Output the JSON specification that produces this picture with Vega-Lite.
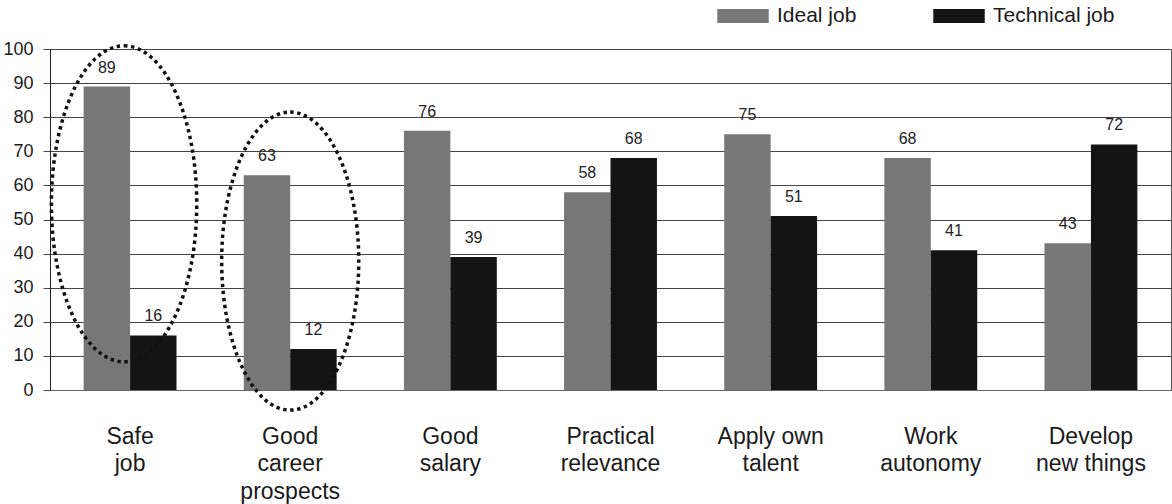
{
  "$schema": "https://vega.github.io/schema/vega-lite/v6.json",
  "width": 1121,
  "height": 341,
  "autosize": {"type": "none"},
  "padding": {"left": 50, "top": 49, "right": 1, "bottom": 114},
  "background": "white",
  "config": {
    "font": "Liberation Sans",
    "view": {"stroke": "#555", "strokeWidth": 1},
    "axisY": {
      "title": null,
      "tickCount": 10,
      "labelOverlap": false,
      "labelFontSize": 18,
      "labelColor": "#1a1a1a",
      "labelPadding": 10,
      "tickSize": 7,
      "tickColor": "#444",
      "gridColor": "#444",
      "gridOpacity": 1,
      "domainColor": "#222"
    }
  },
  "datasets": {
    "ratings": [
      {"aspect": "Safe job", "job": "Ideal job", "percent": 89},
      {"aspect": "Safe job", "job": "Technical job", "percent": 16},
      {"aspect": "Good career prospects", "job": "Ideal job", "percent": 63},
      {"aspect": "Good career prospects", "job": "Technical job", "percent": 12},
      {"aspect": "Good salary", "job": "Ideal job", "percent": 76},
      {"aspect": "Good salary", "job": "Technical job", "percent": 39},
      {"aspect": "Practical relevance", "job": "Ideal job", "percent": 58},
      {"aspect": "Practical relevance", "job": "Technical job", "percent": 68},
      {"aspect": "Apply own talent", "job": "Ideal job", "percent": 75},
      {"aspect": "Apply own talent", "job": "Technical job", "percent": 51},
      {"aspect": "Work autonomy", "job": "Ideal job", "percent": 68},
      {"aspect": "Work autonomy", "job": "Technical job", "percent": 41},
      {"aspect": "Develop new things", "job": "Ideal job", "percent": 43},
      {"aspect": "Develop new things", "job": "Technical job", "percent": 72}
    ],
    "highlights": [
      {"aspect": "Safe job", "percent": 54.6},
      {"aspect": "Good career prospects", "percent": 37.8}
    ]
  },
  "encoding": {
    "x": {
      "field": "aspect",
      "type": "nominal",
      "scale": {
        "domain": ["Safe job", "Good career prospects", "Good salary", "Practical relevance", "Apply own talent", "Work autonomy", "Develop new things"],
        "paddingInner": 0.42,
        "paddingOuter": 0.21
      },
      "axis": {
        "title": null,
        "labelAngle": 0,
        "labelExpr": "datum.value == 'Apply own talent' ? ['Apply own', 'talent'] : datum.value == 'Develop new things' ? ['Develop', 'new things'] : split(datum.value, ' ')",
        "labelFontSize": 23,
        "labelLineHeight": 27.5,
        "labelBaseline": "top",
        "labelPadding": 35,
        "labelColor": "#1a1a1a",
        "ticks": false,
        "domainColor": "#666",
        "grid": false
      }
    },
    "y": {
      "field": "percent",
      "type": "quantitative",
      "scale": {"domain": [0, 100]}
    }
  },
  "layer": [
    {
      "data": {"name": "ratings"},
      "mark": {"type": "bar"},
      "encoding": {
        "xOffset": {"field": "job", "type": "nominal", "scale": {"domain": ["Ideal job", "Technical job"]}},
        "color": {
          "field": "job",
          "type": "nominal",
          "scale": {"domain": ["Ideal job", "Technical job"], "range": ["#777777", "#141414"]},
          "legend": {
            "orient": "none",
            "legendX": 667,
            "legendY": -59,
            "direction": "horizontal",
            "title": null,
            "padding": 0,
            "symbolType": "M-1,-0.275H1V0.275H-1Z",
            "symbolSize": 2650,
            "symbolStrokeWidth": 0,
            "symbolOpacity": 1,
            "labelFontSize": 21,
            "labelColor": "#1a1a1a",
            "labelOffset": 8,
            "columnPadding": 76
          }
        }
      }
    },
    {
      "data": {"name": "ratings"},
      "mark": {"type": "text", "baseline": "alphabetic", "dy": -14, "fontSize": 16, "color": "#222"},
      "encoding": {
        "xOffset": {"field": "job", "type": "nominal", "scale": {"domain": ["Ideal job", "Technical job"]}},
        "text": {"field": "percent", "type": "quantitative"}
      }
    },
    {
      "data": {"name": "highlights"},
      "transform": [{"filter": "datum.aspect == 'Safe job'"}],
      "mark": {
        "type": "point",
        "shape": "M0,-1C0.254,-1 0.46,-0.552 0.46,0C0.46,0.552 0.254,1 0,1C-0.254,1 -0.46,0.552 -0.46,0C-0.46,-0.552 -0.254,-1 0,-1Z",
        "size": 99856,
        "filled": false,
        "stroke": "#111",
        "strokeWidth": 3.5,
        "strokeDash": [3.4, 3.6],
        "opacity": 1,
        "xOffset": -6
      }
    },
    {
      "data": {"name": "highlights"},
      "transform": [{"filter": "datum.aspect == 'Good career prospects'"}],
      "mark": {
        "type": "point",
        "shape": "M0,-1C0.254,-1 0.46,-0.552 0.46,0C0.46,0.552 0.254,1 0,1C-0.254,1 -0.46,0.552 -0.46,0C-0.46,-0.552 -0.254,-1 0,-1Z",
        "size": 88804,
        "filled": false,
        "stroke": "#111",
        "strokeWidth": 3.5,
        "strokeDash": [3.4, 3.6],
        "opacity": 1
      }
    }
  ]
}
